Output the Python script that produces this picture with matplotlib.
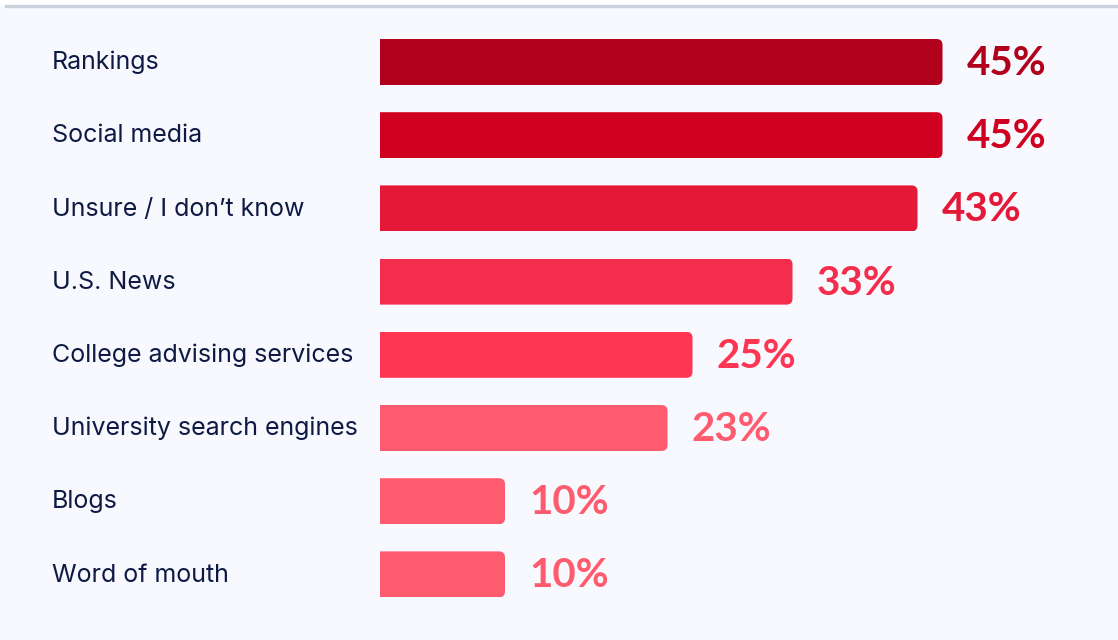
import matplotlib.pyplot as plt
from matplotlib.patches import FancyBboxPatch, Rectangle
from matplotlib.lines import Line2D
import matplotlib.transforms as mtransforms

categories = ["Rankings", "Social media", "Unsure / I don\u2019t know", "U.S. News",
              "College advising services", "University search engines", "Blogs", "Word of mouth"]
values = [45, 45, 43, 33, 25, 23, 10, 10]
colors = ["#b0001b", "#cf0020", "#e31937", "#f32d4b", "#ff3554", "#ff5b6f", "#ff5b6f", "#ff5b6f"]

BG = "#f8f9fe"
TEXT = "#0e1a44"

W, H = 1118, 640
fig = plt.figure(figsize=(W / 100, H / 100), dpi=100, facecolor=BG)

# white strip above the grey rule line
fig.patches.append(Rectangle((0, 1 - 5 / H), 1, 5 / H, transform=fig.transFigure,
                             facecolor="white", edgecolor="none", zorder=-2))
fig.lines.append(Line2D([6 / W, 1], [1 - 5.5 / H] * 2, transform=fig.transFigure,
                        color="#c8d2dc", linewidth=2.4, zorder=-1))

# axes: bars start at x=380px, 12.5 px per percent point, 73 px per row
left = 380 / W
ax = fig.add_axes([left, 0, 1 - left, 1])
ax.set_facecolor("none")
xmax = (W - 380) / 12.5
row = 73.2
ax.set_xlim(0, xmax)
ax.set_ylim((H - 62) / row, -62 / row)
ax.set_axis_off()

bar_h = 46 / row
bars = ax.barh(range(len(values)), values, height=bar_h, color=colors, zorder=2)

# round the right-hand corners only
r_px = 6
for b in bars:
    x0, y0 = b.get_x(), b.get_y()
    w, h = b.get_width(), b.get_height()
    clip = FancyBboxPatch((x0 - 2, y0), w + 2, h,
                          boxstyle=f"round,pad=0,rounding_size={r_px / 12.5}",
                          mutation_aspect=12.5 / row,
                          transform=ax.transData, facecolor="none", edgecolor="none")
    ax.add_patch(clip)
    b.set_clip_path(clip)

lab_tr = mtransforms.blended_transform_factory(fig.transFigure, ax.transData)
for i, (cat, v, c) in enumerate(zip(categories, values, colors)):
    ax.text(52 / W, i + 0.01, cat, transform=lab_tr, ha="left", va="center",
            fontsize=18, color=TEXT, family="Inter")
    ax.text(v + 24 / 12.5, i + 0.02, f"{v}%", ha="left", va="center",
            fontsize=29, fontweight="bold", color=c, family="Lato")

fig.savefig("out.png", dpi=100, facecolor=fig.get_facecolor())
